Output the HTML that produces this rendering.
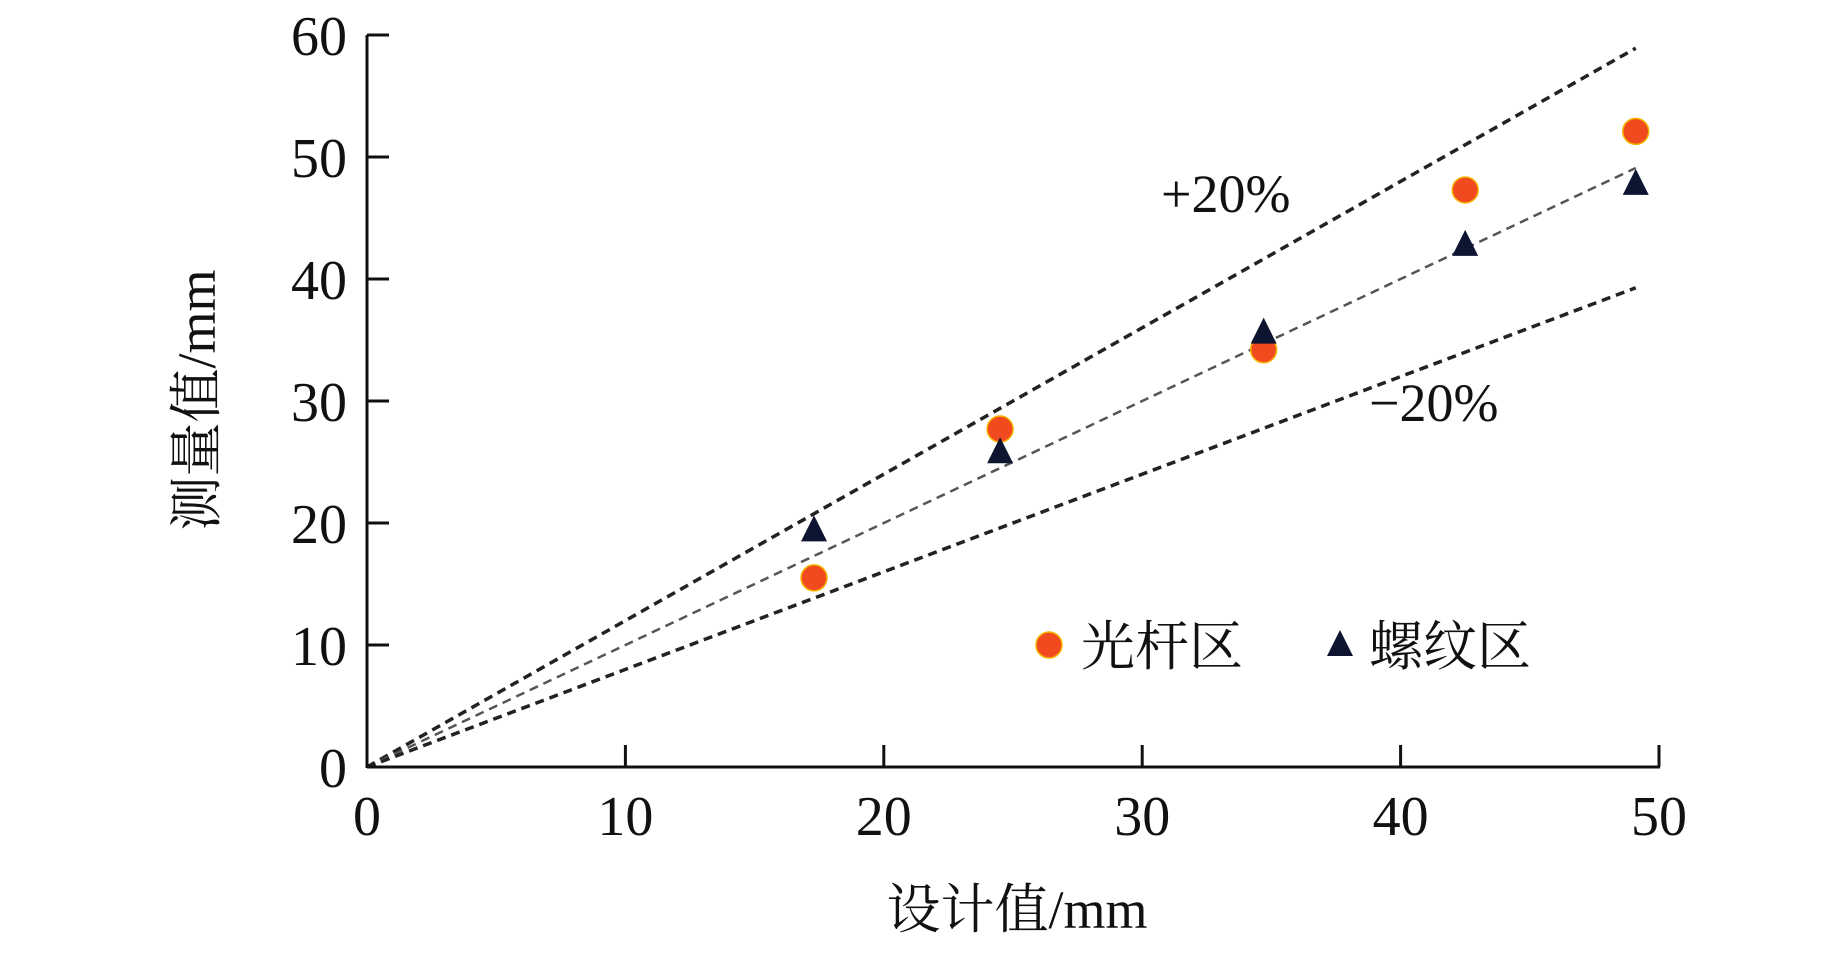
<!DOCTYPE html>
<html><head><meta charset="utf-8"><style>
html,body{margin:0;padding:0;background:#fff;}
svg text{font-family:"Liberation Serif","Noto Serif CJK SC",serif;fill:#111;}
</style></head><body>
<svg id="chart" width="1843" height="948" viewBox="0 0 1843 948" xmlns="http://www.w3.org/2000/svg">
<g id="lines"></g>
<g id="axes"></g>
<g id="marks"></g>
<text x="1161" y="212" font-size="54">+20%</text>
<text x="1369" y="421" font-size="54">−20%</text>
<text x="1017" y="928" font-size="54" text-anchor="middle">设计值/mm</text>
<text transform="translate(215,400) rotate(-90)" font-size="54" text-anchor="middle">测量值/mm</text>
<g>
<circle cx="1049" cy="645" r="13" fill="#f04a1e" stroke="#f5b400" stroke-width="1.5"/>
<text x="1081" y="665" font-size="54">光杆区</text>
<path d="M1340,630 L1353,656 L1327,656 Z" fill="#0d1530"/>
<text x="1369" y="665" font-size="54">螺纹区</text>
</g>
</svg>
<script>
const xTicks=[0,10,20,30,40,50];
const yTicks=[0,10,20,30,40,50,60];
const designX=[17.3,24.5,34.7,42.5,49.1];
const smoothY=[15.5,27.7,34.2,47.3,52.1];
const threadY=[19.4,25.8,35.6,42.8,47.8];
const lineFactors=[1.2,1.0,0.8];
const lineEndX=49.1;
const NS="http://www.w3.org/2000/svg";
const X0=367,X1=1659,Y0=767,Y1=35;
const sx=v=>X0+(X1-X0)*v/50;
const sy=v=>Y0-(Y0-Y1)*v/60;
function mk(tag,attrs,parent){const e=document.createElementNS(NS,tag);for(const k in attrs)e.setAttribute(k,attrs[k]);parent.appendChild(e);return e;}
const axes=document.getElementById('axes');
let a=mk('line',{x1:X0,y1:Y0,x2:X1+1,y2:Y0,stroke:'#111','stroke-width':3},axes);


a=mk('line',{x1:X0,y1:Y0+1,x2:X0,y2:Y1,stroke:'#111','stroke-width':3},axes);


xTicks.forEach(t=>{
 const l=mk('line',{x1:sx(t),y1:Y0,x2:sx(t),y2:Y0-22,stroke:'#111','stroke-width':3},axes);
 
 
 const tx=mk('text',{x:sx(t),y:835,'font-size':56,'text-anchor':'middle'},axes);
 tx.textContent=t;
 
 
});
yTicks.forEach(t=>{
 const l=mk('line',{x1:X0,y1:sy(t),x2:X0+22,y2:sy(t),stroke:'#111','stroke-width':3},axes);
 
 
 const tx=mk('text',{x:X0-20,y:sy(t)+20,'font-size':56,'text-anchor':'end'},axes);
 tx.textContent=t;
 
 
});
const lines=document.getElementById('lines');
lineFactors.forEach((f,i)=>{
 const l=mk('line',{x1:sx(0),y1:sy(0),x2:sx(lineEndX),y2:sy(lineEndX*f),stroke:i==1?'#555':'#222','stroke-width':i==1?2.5:3.5,'stroke-dasharray':'9 6'},lines);
 
 
});
const marks=document.getElementById('marks');
designX.forEach((x,i)=>{
 const c=mk('circle',{cx:sx(x),cy:sy(smoothY[i]),r:13,fill:'#f04a1e',stroke:'#f5b400','stroke-width':1.5},marks);
 
 
});
designX.forEach((x,i)=>{
 const px=sx(x),py=sy(threadY[i]);
 const p=mk('path',{d:`M${px},${py-15} L${px+13},${py+11} L${px-13},${py+11} Z`,fill:'#0d1530'},marks);
 
 
});
</script>
</body></html>
